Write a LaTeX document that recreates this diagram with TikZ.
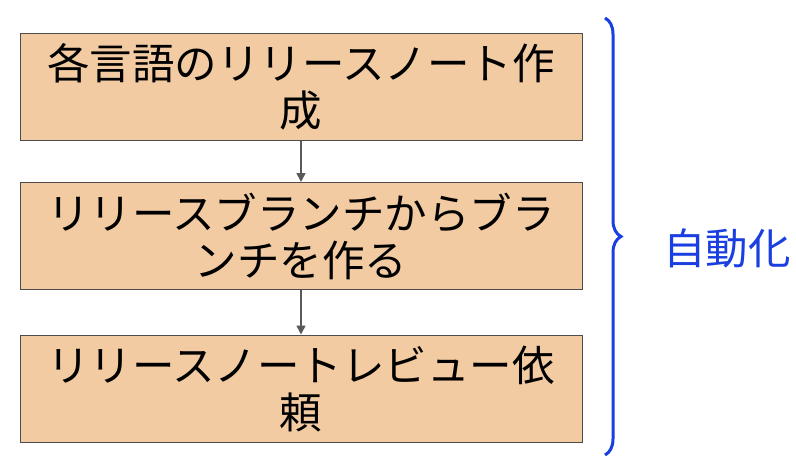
\documentclass[tikz,border=0pt]{standalone}
\usepackage{fontspec}
\newfontfamily\cjk{Noto Sans CJK JP}
\usetikzlibrary{decorations.pathreplacing,arrows.meta}
\begin{document}
\begin{tikzpicture}[x=1pt,y=-1pt,
 box/.style={draw=black!70,line width=1pt,fill=boxc,minimum width=562pt,minimum height=107pt,align=center,font=\cjk\fontsize{42.5}{47}\selectfont,inner sep=0pt},
 arr/.style={draw=black!65,line width=1.5pt,-{Triangle[length=9pt,width=9pt]}}]
\definecolor{boxc}{HTML}{F2CBA2}
\definecolor{bl}{HTML}{1A3FE0}
\useasboundingbox (0,0) rectangle (796,472);
\node[box] (a) at (301,86.5) {各言語のリリースノート作\\成};
\node[box] (b) at (301,236) {リリースブランチからブラ\\ンチを作る};
\node[box] (c) at (301,388.5) {リリースノートレビュー依\\頼};
\draw[arr] (a.south) -- (b.north);
\draw[arr] (b.south) -- (c.north);
\coordinate (t) at (605,18);
\coordinate (u) at (605,455);
\draw[bl,line width=3pt,decorate,decoration={brace,amplitude=16pt}] (t) -- (u);
\node[text=bl,font=\cjk\fontsize{42.5}{45}\selectfont] (l) at (727,248) {自動化};
\end{tikzpicture}
\end{document}
